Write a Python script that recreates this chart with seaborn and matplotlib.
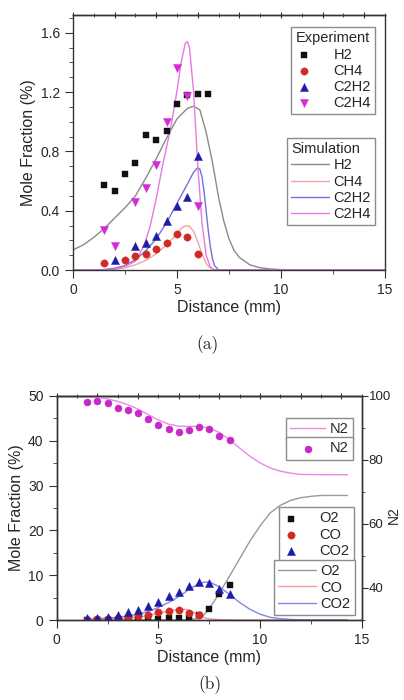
import matplotlib
matplotlib.use("Agg")
import matplotlib.pyplot as plt
from matplotlib.ticker import MultipleLocator, NullFormatter
import seaborn as sns

sns.set_style("ticks")
plt.rcParams["font.family"] = ["Liberation Sans", "DejaVu Sans"]

# ---------------- panel (a) data ----------------
h2_x = [1.5, 2, 2.5, 3, 3.5, 4, 4.5, 5, 5.5, 6, 6.5]
h2_exp = [0.57, 0.53, 0.65, 0.72, 0.91, 0.88, 0.94, 1.12, 1.18, 1.19, 1.19]
ch4_x = [1.5, 2.5, 3, 3.5, 4, 4.5, 5, 5.5, 6]
ch4_exp = [0.05, 0.065, 0.095, 0.11, 0.14, 0.18, 0.24, 0.223, 0.105]
c2h2_x = [2, 3, 3.5, 4, 4.5, 5, 5.5, 6]
c2h2_exp = [0.07, 0.16, 0.18, 0.23, 0.33, 0.43, 0.49, 0.77]
c2h4_x = [1.5, 2, 3, 3.5, 4, 4.5, 5, 5.5, 6]
c2h4_exp = [0.27, 0.165, 0.46, 0.555, 0.71, 1.0, 1.36, 1.175, 0.433]

h2_sim_x = [0, 0.5, 1, 1.5, 2, 2.5, 3, 3.5, 4, 4.5, 5, 5.5, 5.8, 6.1, 6.4, 6.7,
            7, 7.25, 7.5, 7.75, 8, 8.5, 9, 9.5, 10, 11, 12, 13, 14, 15]
h2_sim = [0.135, 0.17, 0.22, 0.28, 0.35, 0.42, 0.5, 0.62, 0.75, 0.89, 1.02, 1.09,
          1.105, 1.08, 0.93, 0.73, 0.49, 0.33, 0.21, 0.13, 0.085, 0.035, 0.015,
          0.007, 0.003, 0.001, 0, 0, 0, 0]
ch4_sim_x = [0, 1, 1.5, 2, 2.5, 3, 3.5, 4, 4.5, 5, 5.2, 5.4, 5.6, 5.8, 6.0, 6.2,
             6.4, 6.6, 6.8, 7, 8, 15]
ch4_sim = [0, 0, 0.002, 0.006, 0.015, 0.035, 0.065, 0.11, 0.17, 0.245, 0.28, 0.298,
           0.295, 0.26, 0.19, 0.11, 0.045, 0.012, 0.003, 0, 0, 0]
c2h2_sim_x = [0, 1, 1.5, 2, 2.5, 3, 3.5, 4, 4.5, 5, 5.5, 5.8, 6.0, 6.1, 6.2, 6.3,
              6.4, 6.5, 6.6, 6.7, 6.8, 7, 8, 15]
c2h2_sim = [0, 0, 0.003, 0.012, 0.03, 0.07, 0.13, 0.21, 0.32, 0.45, 0.58, 0.66,
            0.69, 0.68, 0.63, 0.53, 0.4, 0.27, 0.16, 0.08, 0.03, 0, 0, 0]
c2h4_sim_x = [0, 1, 1.5, 2, 2.3, 2.6, 3, 3.4, 3.7, 4, 4.3, 4.7, 5, 5.2, 5.4, 5.5,
              5.6, 5.8, 6.0, 6.2, 6.4, 6.6, 6.8, 7, 8, 15]
c2h4_sim = [0, 0, 0, 0.005, 0.015, 0.03, 0.06, 0.16, 0.29, 0.48, 0.7, 0.96, 1.21,
            1.4, 1.53, 1.54, 1.5, 1.2, 0.7, 0.32, 0.1, 0.02, 0, 0, 0, 0]

# ---------------- panel (b) data ----------------
b_x = [1.5, 2, 2.5, 3, 3.5, 4, 4.5, 5, 5.5, 6, 6.5, 7, 7.5, 8, 8.5]
n2_exp = [98.2, 98.4, 97.8, 96.4, 95.6, 94.7, 92.9, 91.0, 89.6, 88.8, 89.5, 90.3,
          89.6, 87.5, 86.2]
o2_exp = [0.1, 0.1, 0.1, 0.1, 0.1, 0.1, 0.15, 0.3, 0.35, 0.35, 0.5, 1.1, 2.4, 5.9, 7.8]
co_x = [1.5, 2, 2.5, 3, 3.5, 4, 4.5, 5, 5.5, 6, 6.5, 7]
co_exp = [0.1, 0.2, 0.3, 0.45, 0.6, 0.8, 1.1, 1.7, 2.0, 2.3, 1.6, 1.2]
co2_exp = [0.5, 0.5, 0.7, 1.2, 1.7, 2.2, 3.2, 4.1, 5.3, 6.2, 7.7, 8.4, 8.2, 7.0, 5.8]

n2_sim_x = [1.5, 2, 2.5, 3, 3.5, 4, 4.5, 5, 5.5, 6, 6.5, 7, 7.5, 8, 8.5, 9, 9.5,
            10, 10.5, 11, 11.5, 12, 13, 14.3]
n2_sim = [99.8, 99.6, 99.1, 98.3, 97.3, 95.9, 94.2, 92.5, 91.2, 90.6, 90.5, 90.5,
          90.0, 88.6, 86.3, 83.7, 81.2, 79.1, 77.5, 76.5, 75.9, 75.5, 75.4, 75.4]
o2_sim_x = [1.5, 3, 5, 6, 6.5, 7, 7.25, 7.5, 7.75, 8, 8.5, 9, 9.5, 10, 10.5, 11,
            11.5, 12, 12.5, 13, 14.3]
o2_sim = [0, 0, 0, 0, 0.05, 0.4, 1.2, 2.6, 4.2, 6.0, 9.8, 13.7, 17.6, 21.0, 23.9,
          25.6, 26.7, 27.3, 27.6, 27.8, 27.8]
co_sim_x = [1.5, 2, 2.5, 3, 3.5, 4, 4.5, 5, 5.5, 6, 6.3, 6.6, 7, 7.3, 7.6, 8, 8.5,
            9, 10, 14.3]
co_sim = [0.05, 0.08, 0.15, 0.25, 0.4, 0.65, 1.0, 1.5, 2.0, 2.4, 2.4, 2.0, 1.0, 0.5,
          0.2, 0.08, 0.02, 0, 0, 0]
co2_sim_x = [1.5, 2, 2.5, 3, 3.5, 4, 4.5, 5, 5.5, 6, 6.5, 7, 7.3, 7.6, 8, 8.5, 9,
             9.5, 10, 10.5, 11, 11.5, 12, 12.5, 14.3]
co2_sim = [0.2, 0.3, 0.4, 0.6, 0.9, 1.3, 1.9, 2.8, 3.9, 5.2, 6.8, 8.1, 8.5, 8.3,
           7.4, 5.7, 3.9, 2.4, 1.3, 0.6, 0.3, 0.12, 0.05, 0, 0]

LEG = dict(fontsize=10.5, frameon=True, fancybox=False, framealpha=1,
           edgecolor="#8c8c8c", borderpad=0.3, labelspacing=0.15,
           borderaxespad=0, alignment="left")


def style_ticks(ax):
    for s in ax.spines.values():
        s.set_linewidth(1.0)
        s.set_color("#333333")
    ax.tick_params(which="both", direction="out", labelsize=10, color="#333333")
    ax.tick_params(which="major", length=6)
    ax.tick_params(which="minor", length=3)


def style_axis(ax):
    style_ticks(ax)
    ax.xaxis.set_major_locator(MultipleLocator(5))
    ax.xaxis.set_minor_locator(MultipleLocator(2.5))
    top = ax.secondary_xaxis("top")
    top.xaxis.set_major_locator(MultipleLocator(2))
    top.xaxis.set_minor_locator(MultipleLocator(1))
    top.xaxis.set_major_formatter(NullFormatter())
    top.tick_params(which="both", direction="inout", color="#333333")
    top.tick_params(which="major", length=5)
    top.tick_params(which="minor", length=3)
    top.spines["top"].set_linewidth(1.0)


fig = plt.figure(figsize=(4.04, 7.0), dpi=100)

# ---------------- (a) ----------------
ax = fig.add_axes([73 / 404, 1 - 270 / 700, 312 / 404, 255 / 700])
sims = [(h2_sim_x, h2_sim, "#8a8a8a", "H2"),
        (ch4_sim_x, ch4_sim, "#f2a3a3", "CH4"),
        (c2h2_sim_x, c2h2_sim, "#7272d8", "C2H2"),
        (c2h4_sim_x, c2h4_sim, "#e47ae4", "C2H4")]
sim_handles = []
for x, y, c, name in sims:
    sns.lineplot(x=x, y=y, color=c, lw=1.0, ax=ax, label=name,
                 estimator=None, sort=False, legend=False)
    sim_handles.append(ax.lines[-1])

exps = [(h2_x, h2_exp, "#111111", "s", 22, "H2"),
        (ch4_x, ch4_exp, "#d02a22", "o", 28, "CH4"),
        (c2h2_x, c2h2_exp, "#1c1ca8", "^", 34, "C2H2"),
        (c2h4_x, c2h4_exp, "#d62ad6", "v", 34, "C2H4")]
exp_handles = []
for x, y, c, m, s, name in exps:
    sns.scatterplot(x=x, y=y, color=c, marker=m, s=s, linewidth=0.3,
                    edgecolor=c, ax=ax, label=name, legend=False, zorder=3)
    exp_handles.append(ax.collections[-1])

ax.set_xlim(0, 15)
ax.set_ylim(0, 1.72)
ax.yaxis.set_major_locator(MultipleLocator(0.4))
ax.yaxis.set_minor_locator(MultipleLocator(0.1))
ax.yaxis.set_major_formatter(plt.FuncFormatter(lambda v, p: f"{v:.1f}"))
style_axis(ax)
ax.set_xlabel("Distance (mm)", fontsize=11.5, labelpad=2)
ax.set_ylabel("Mole Fraction (%)", fontsize=11.5, labelpad=3)

leg1 = ax.legend(exp_handles, [e[-1] for e in exps], title="Experiment",
                 loc="upper right", bbox_to_anchor=(0.968, 0.953),
                 handlelength=1.2, handletextpad=1.4, title_fontsize=10.5, **LEG)
ax.add_artist(leg1)
ax.legend(sim_handles, [s[-1] for s in sims], title="Simulation",
          loc="upper right", bbox_to_anchor=(0.968, 0.518),
          handlelength=2.6, handletextpad=0.3, title_fontsize=10.5, **LEG)

fig.text(208 / 404, 1 - 345 / 700, "(a)", ha="center", va="center",
         fontsize=12.5, family="cmr10")

# ---------------- (b) ----------------
bx = fig.add_axes([56.7 / 404, 1 - 620 / 700, 305 / 404, 224 / 700])
bx2 = bx.twinx()

lines_b = [(o2_sim_x, o2_sim, "#9a9a9a", "O2"),
           (co_sim_x, co_sim, "#f39a9a", "CO"),
           (co2_sim_x, co2_sim, "#8585e0", "CO2")]
b_line_handles = []
for x, y, c, name in lines_b:
    sns.lineplot(x=x, y=y, color=c, lw=1.0, ax=bx, label=name,
                 estimator=None, sort=False, legend=False)
    b_line_handles.append(bx.lines[-1])

pts_b = [(b_x, o2_exp, "#111111", "s", 22, "O2"),
         (co_x, co_exp, "#d02a22", "o", 28, "CO"),
         (b_x, co2_exp, "#1c1ca8", "^", 34, "CO2")]
b_pt_handles = []
for x, y, c, m, s, name in pts_b:
    sns.scatterplot(x=x, y=y, color=c, marker=m, s=s, linewidth=0.3,
                    edgecolor=c, ax=bx, label=name, legend=False, zorder=3)
    b_pt_handles.append(bx.collections[-1])

sns.lineplot(x=n2_sim_x, y=n2_sim, color="#e68ae6", lw=1.0, ax=bx2, label="N2",
             estimator=None, sort=False, legend=False)
n2_line = bx2.lines[-1]
sns.scatterplot(x=b_x, y=n2_exp, color="#c828c8", marker="o", s=26,
                linewidth=0.3, edgecolor="#c828c8", ax=bx2, label="N2",
                legend=False, zorder=3)
n2_pts = bx2.collections[-1]

bx.set_xlim(0, 15)
bx.set_ylim(0, 50)
bx2.set_ylim(30, 100)
bx.yaxis.set_major_locator(MultipleLocator(10))
bx.yaxis.set_minor_locator(MultipleLocator(5))
bx2.yaxis.set_major_locator(MultipleLocator(20))
bx2.yaxis.set_minor_locator(MultipleLocator(10))
style_axis(bx)
style_ticks(bx2)
bx2.tick_params(which="major", length=4, pad=1, labelsize=9.5)
bx2.tick_params(which="minor", length=2.5)
bx.set_xlabel("Distance (mm)", fontsize=11.5, labelpad=2)
bx.set_ylabel("Mole Fraction (%)", fontsize=11.5, labelpad=3)
bx2.set_ylabel("N2", fontsize=10, rotation=90, va="center", ha="center")
bx2.yaxis.set_label_coords(1.107, 0.47)

l1 = bx2.legend([n2_line], ["N2"], loc="upper right", bbox_to_anchor=(0.971, 0.902),
                handlelength=2.4, handletextpad=0.3, **LEG)
bx2.add_artist(l1)
l2 = bx2.legend([n2_pts], ["N2"], loc="upper right", bbox_to_anchor=(0.971, 0.817),
                handlelength=2.4, handletextpad=0.3, **LEG)
bx2.add_artist(l2)
l3 = bx2.legend(b_pt_handles, ["O2", "CO", "CO2"], loc="upper right",
                bbox_to_anchor=(0.975, 0.504), handlelength=1.0,
                handletextpad=1.5, **LEG)
bx2.add_artist(l3)
bx2.legend(b_line_handles, ["O2", "CO", "CO2"], loc="upper right",
           bbox_to_anchor=(0.978, 0.268), handlelength=2.6,
           handletextpad=0.3, **LEG)

fig.text(210 / 404, 1 - 685 / 700, "(b)", ha="center", va="center",
         fontsize=12.5, family="cmr10")

fig.savefig("out.png", dpi=100)
